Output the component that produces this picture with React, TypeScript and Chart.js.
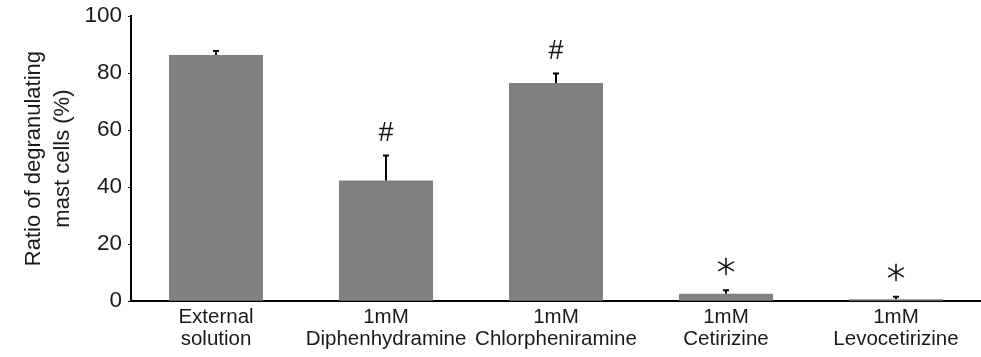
import React, { useEffect, useRef } from "react";
import { Chart, registerables } from "chart.js";

Chart.register(...registerables);

const categories: string[][] = [
  ["External", "solution"],
  ["1mM", "Diphenhydramine"],
  ["1mM", "Chlorpheniramine"],
  ["1mM", "Cetirizine"],
  ["1mM", "Levocetirizine"],
];
const values: number[] = [86.3, 42.3, 76.5, 2.6, 0.7];
const errors: number[] = [1.4, 8.8, 3.3, 1.2, 0.8];
const marks: string[] = ["", "#", "#", "∗", "∗"];
const yTicks: number[] = [0, 20, 40, 60, 80, 100];
const yTitle: string[] = ["Ratio of degranulating", "mast cells (%)"];

const FONT = "'Liberation Sans', Arial, sans-serif";

const errorPlugin = {
  id: "errorBarsAndMarks",
  afterDatasetsDraw(chart: any) {
    const ctx = chart.ctx;
    const meta = chart.getDatasetMeta(0);
    const y = chart.scales.y;
    ctx.save();
    meta.data.forEach((bar: any, i: number) => {
      const x = bar.x;
      const top = y.getPixelForValue(values[i] + errors[i]);
      const base = y.getPixelForValue(values[i]);
      ctx.strokeStyle = "#000";
      ctx.lineWidth = 2;
      ctx.beginPath();
      ctx.moveTo(x, base);
      ctx.lineTo(x, top);
      ctx.moveTo(x - 3, top);
      ctx.lineTo(x + 3, top);
      ctx.stroke();
      const m = marks[i];
      if (m) {
        ctx.fillStyle = "#111";
        ctx.textAlign = "center";
        ctx.textBaseline = "middle";
        if (m === "#") {
          ctx.font = "27px " + FONT;
          ctx.fillText(m, x, top - 22);
        } else {
          ctx.font = "200 37px 'DejaVu Sans', sans-serif";
          ctx.fillStyle = "#000";
          ctx.strokeStyle = "#111";
          ctx.lineWidth = 0.6;
          ctx.fillText(m, x, top - 22);
          ctx.strokeText(m, x, top - 22);
        }
      }
    });
    ctx.restore();
  },
};

export default function App() {
  const ref = useRef<HTMLCanvasElement | null>(null);
  useEffect(() => {
    if (!ref.current) return;
    const chart = new Chart(ref.current, {
      type: "bar",
      data: {
        labels: categories,
        datasets: [
          {
            data: values,
            backgroundColor: "#808080",
            borderWidth: 0,
            barPercentage: 0.553,
            categoryPercentage: 1,
          },
        ],
      },
      options: {
        animation: false,
        responsive: false,
        maintainAspectRatio: false,
        layout: { padding: { top: 16, right: 0, bottom: 2, left: 0 } },
        plugins: { legend: { display: false }, tooltip: { enabled: false } },
        scales: {
          x: {
            grid: { display: false, drawTicks: false, tickLength: 0 },
            border: { display: true, color: "#000", width: 2 },
            ticks: {
              color: "#1a1a1a",
              padding: 5,
              maxRotation: 0,
              autoSkip: false,
              font: { family: FONT, size: 20.5, lineHeight: 1.07 },
            },
          },
          y: {
            min: 0,
            max: 100,
            afterBuildTicks(scale: any) {
              scale.ticks = yTicks.map((v) => ({ value: v }));
            },
            afterFit(scale: any) {
              scale.width = 131;
              scale.paddingTop = 0;
              scale.paddingBottom = 0;
            },
            grid: { display: true, drawOnChartArea: false, drawTicks: true, tickLength: 3, color: "#000", lineWidth: 1 },
            border: { display: true, color: "#000", width: 2 },
            ticks: {
              color: "#1a1a1a",
              padding: 6,
              font: { family: FONT, size: 22.5 },
            },
            title: {
              display: true,
              text: yTitle,
              color: "#1a1a1a",
              padding: { top: 19, bottom: 0 },
              font: { family: FONT, size: 22, lineHeight: 1.32 },
            },
          },
        },
      },
      plugins: [errorPlugin],
    });
    return () => chart.destroy();
  }, []);
  return (
    <div style={{ position: "fixed", left: 0, top: 0, width: 981, height: 357, background: "#fff" }}>
      <canvas ref={ref} width={981} height={357} style={{ width: 981, height: 357 }} />
    </div>
  );
}
